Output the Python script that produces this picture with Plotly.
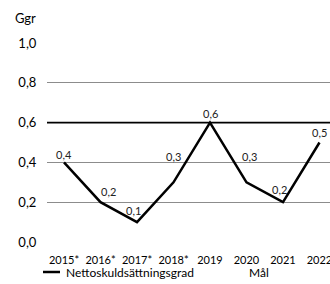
import plotly.graph_objects as go

categories = ["2015*", "2016*", "2017*", "2018*", "2019", "2020", "2021", "2022"]
values = [0.4, 0.2, 0.1, 0.3, 0.6, 0.3, 0.2, 0.5]
target = 0.6
y_ticks = [0.0, 0.2, 0.4, 0.6, 0.8, 1.0]
series_name = "Nettoskuldsättningsgrad"
target_name = "Mål"
unit_label = "Ggr"

FONT = "Lato"
# label offsets (px) relative to each point: (dx, dy_up)
label_offsets = [(0, 8), (8, 11), (-4, 12), (0, 26), (0, 9), (3, 26), (-4, 13), (0, 10)]

L, R, T, B, W, H = 47, 0, 43, 42, 330, 284
PW = W - L - R
PH = H - T - B


def px_x(px):
    return (px - L) / PW


def px_y(py):
    return (H - B - py) / PH


def fmt(v):
    return f"{v:.1f}".replace(".", ",")


fig = go.Figure()
fig.add_trace(go.Scatter(
    x=categories, y=values, mode="lines", name=series_name,
    line=dict(color="black", width=2.5), showlegend=False, hoverinfo="skip",
))
fig.add_hline(y=target, line=dict(color="black", width=1.8), layer="above")

annotations = []
for i, (v, (dx, dy)) in enumerate(zip(values, label_offsets)):
    annotations.append(dict(x=i, y=v, text=fmt(v), showarrow=False, xref="x", yref="y",
                            xanchor="center", yanchor="middle", xshift=dx, yshift=dy,
                            font=dict(family=FONT, size=11, color="#222")))
annotations.append(dict(text=unit_label, xref="paper", yref="paper", x=px_x(13), y=px_y(18),
                        xanchor="left", yanchor="middle", showarrow=False,
                        font=dict(family=FONT, size=13, color="black")))
annotations.append(dict(text=series_name, xref="paper", yref="paper", x=px_x(64), y=px_y(272),
                        xanchor="left", yanchor="middle", showarrow=False,
                        font=dict(family=FONT, size=12, color="black")))
annotations.append(dict(text=target_name, xref="paper", yref="paper", x=px_x(247), y=px_y(272),
                        xanchor="left", yanchor="middle", showarrow=False,
                        font=dict(family=FONT, size=12, color="black")))
fig.add_shape(type="line", xref="paper", yref="paper", x0=px_x(43), x1=px_x(60),
              y0=px_y(272), y1=px_y(272), line=dict(color="black", width=2.5))

# category axis: first center at px 64, spacing 36.5 px
x_lo = (L - 64) / 36.5
x_hi = (W - R - 64) / 36.5

fig.update_layout(
    width=W, height=H,
    margin=dict(l=L, r=R, t=T, b=B, autoexpand=False),
    paper_bgcolor="white", plot_bgcolor="white",
    separators=", ",
    font=dict(family=FONT, color="black"),
    showlegend=False,
    annotations=annotations,
    xaxis=dict(type="category", range=[x_lo, x_hi], showgrid=False, showline=False,
               ticks="outside", ticklen=8, tickcolor="rgba(0,0,0,0)",
               tickfont=dict(family=FONT, size=11, color="black")),
    yaxis=dict(range=[0, 1.0], tickvals=y_ticks, tickformat=".1f",
               showgrid=True, gridcolor="#8c8c8c", gridwidth=1, zeroline=False,
               ticks="outside", ticklen=7, tickcolor="rgba(0,0,0,0)",
               tickfont=dict(family=FONT, size=13, color="black")),
)
fig.write_html("out.html", config={"displayModeBar": False},
               post_script="document.body.style.margin='0';document.body.style.overflow='hidden';")
